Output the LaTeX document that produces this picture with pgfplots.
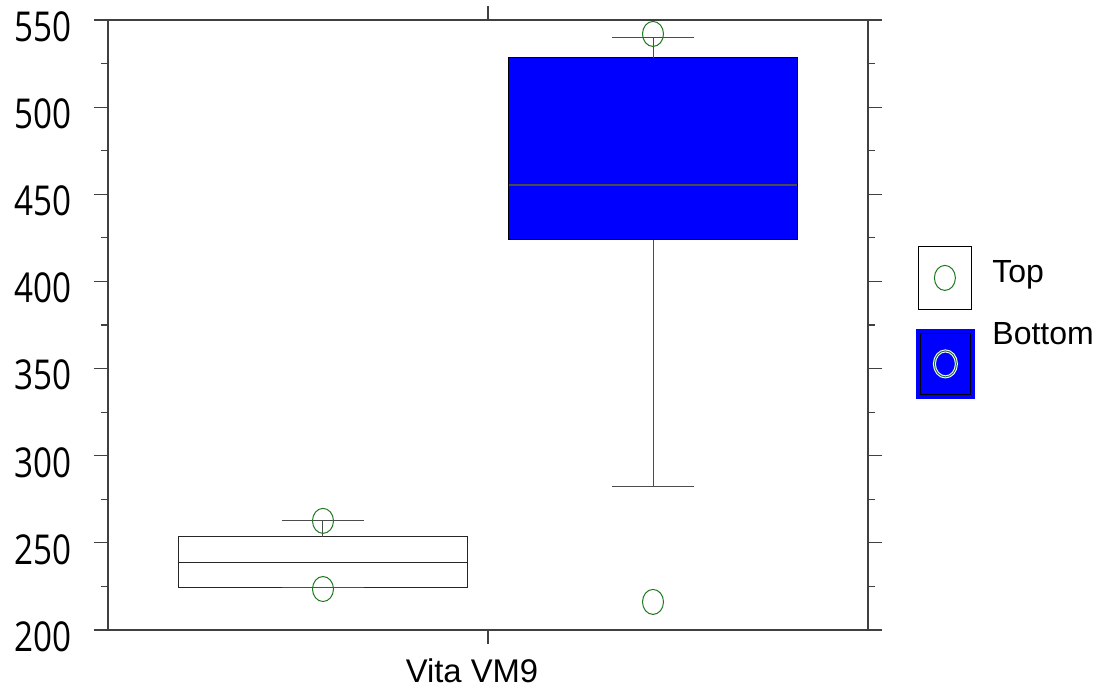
\documentclass[border=0pt]{standalone}
\usepackage{pgfplots}
\pgfplotsset{compat=1.18}
\usepackage{fontspec}
\setmainfont{Liberation Sans}
\newfontfamily\tickfont{Open Sans}
\definecolor{mkgreen}{RGB}{30,120,30}
\definecolor{boxblue}{RGB}{0,0,255}
\pgfdeclareplotmark{vellipse}{%
  \pgfpathellipse{\pgfpointorigin}{\pgfqpoint{0.84\pgfplotmarksize}{0pt}}{\pgfqpoint{0pt}{\pgfplotmarksize}}%
  \pgfusepathqstroke}
\begin{document}
\begin{tikzpicture}
\begin{axis}[
  at={(0,0)}, anchor=south west,
  scale only axis, width=380pt, height=305pt,
  xmin=-1.1515, xmax=1.1515, ymin=200, ymax=550,
  xtick={0}, xticklabels={Vita VM9},
  ytick={200,250,...,550}, minor y tick num=1,
  tick align=outside, major tick length=7pt, minor tick length=3.5pt,
  axis line style={draw=black!75, line width=0.6pt},
  tick style={draw=black!75, line width=0.6pt},
  yticklabel={\scalebox{1}[1.24]{\tickfont\fontsize{16.6}{20}\selectfont\pgfmathprintnumber[assume math mode=true]{\tick}}},
  yticklabel style={anchor=east, inner sep=0pt, xshift=-11pt, yshift=-3.3pt},
  xticklabel style={font=\fontsize{16.4}{19}\selectfont, anchor=north, inner sep=0pt, yshift=-7pt, xshift=-8pt},
  every axis plot/.append style={line width=0.5pt},
  legend cell align=left,
  legend style={at={(1.0658,0.6098)}, anchor=north west, draw=none, fill=none,
    inner sep=0pt, row sep=15.5pt, column sep=0pt,
    nodes={inner sep=0pt, text height=12pt, text depth=3.5pt, font=\fontsize{16}{19}\selectfont}},
]
\addlegendimage{legend image code/.code={
  \path[draw=none, fill=none] (0pt,-1pt) rectangle (37pt,1pt);
  \draw[overlay, draw=black, line width=0.5pt, fill=white] (0pt,-17.75pt) rectangle (26.5pt,13.75pt);
  \draw[overlay, draw=mkgreen, line width=0.5pt] (13.25pt,-2pt) ellipse [x radius=5.25pt, y radius=6.25pt];
}}
\addlegendentry{Top}
\addlegendimage{legend image code/.code={
  \path[draw=none, fill=none] (0pt,-1pt) rectangle (37pt,1pt);
  \draw[overlay, draw=boxblue, line width=1.5pt, fill=boxblue] (-0.5pt,-30.75pt) rectangle (27.5pt,2.75pt);
  \draw[overlay, draw=black, line width=0.5pt] (1pt,-29.25pt) rectangle (26pt,1.25pt);
  \draw[overlay, draw=white, line width=1.5pt] (13.5pt,-14pt) ellipse [x radius=5.5pt, y radius=6.5pt];
  \draw[overlay, draw=mkgreen, line width=0.5pt] (13.5pt,-14pt) ellipse [x radius=5.5pt, y radius=6.5pt];
}}
\addlegendentry{Bottom}
% Top: box (Q1, Q3), median, whiskers
\addplot[draw=black!85, fill=white] coordinates {(-0.9365,224.1) (-0.0635,224.1) (-0.0635,253.4) (-0.9365,253.4)} -- cycle;
\addplot[draw=black!85] coordinates {(-0.9365,239.0) (-0.0635,239.0)};
\addplot[draw=black!70] coordinates {(-0.5,253.4) (-0.5,263.1)};
\addplot[draw=black!70] coordinates {(-0.624,263.1) (-0.376,263.1)};
\addplot[draw=black!70] coordinates {(-0.624,224.1) (-0.376,224.1)};
% Bottom: box, median, whiskers
\addplot[draw=black, fill=boxblue] coordinates {(0.0635,423.8) (0.9365,423.8) (0.9365,528.2) (0.0635,528.2)} -- cycle;
\addplot[draw=black!70, line width=0.7pt] coordinates {(0.0635,455.3) (0.9365,455.3)};
\addplot[draw=black!70] coordinates {(0.5,528.2) (0.5,540.2)};
\addplot[draw=black!70] coordinates {(0.376,540.2) (0.624,540.2)};
\addplot[draw=black!70] coordinates {(0.5,282.6) (0.5,423.8)};
\addplot[draw=black!70] coordinates {(0.376,282.6) (0.624,282.6)};
% points
\addplot[only marks, mark=vellipse, mark size=6.25pt,
  mark options={draw=mkgreen, line width=0.5pt}]
  coordinates {(-0.5,262.6) (-0.5,223.5) (0.5,542.0) (0.5,216.1)};
\end{axis}
\pgfresetboundingbox
\useasboundingbox ([shift={(-54pt,-28pt)}]current axis.south west) rectangle ([shift={(118.5pt,10pt)}]current axis.north east);
\end{tikzpicture}
\end{document}
